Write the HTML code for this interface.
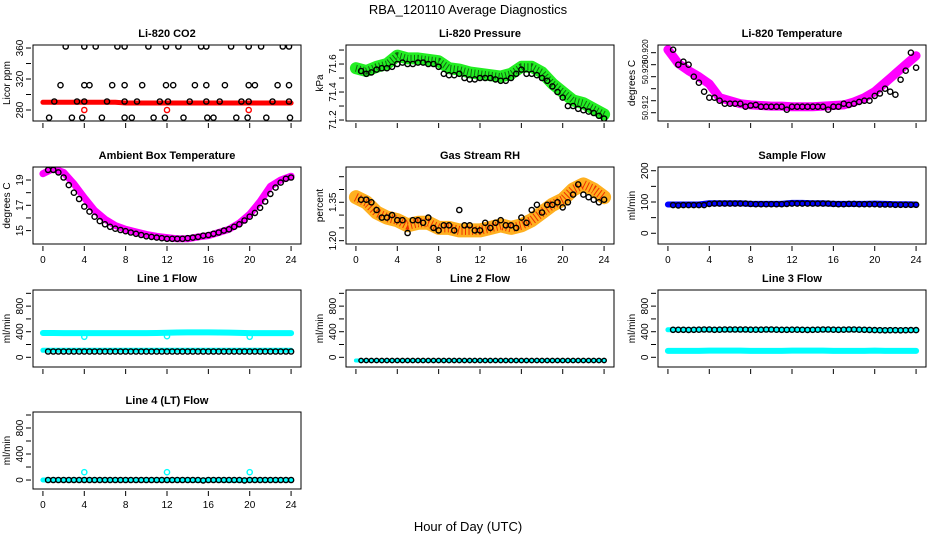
<!DOCTYPE html>
<html><head><meta charset="utf-8">
<style>
html,body{margin:0;padding:0;background:#fff;}
svg{display:block;font-family:"Liberation Sans",sans-serif;}
</style></head>
<body>
<svg id="chart" width="936" height="540" viewBox="0 0 936 540" xmlns="http://www.w3.org/2000/svg">
<text x="468" y="14" text-anchor="middle" font-size="13">RBA_120110  Average Diagnostics</text>
<text x="468" y="531" text-anchor="middle" font-size="13">Hour of Day (UTC)</text>
</svg>
<script>
const hoursHourly = [0,1,2,3,4,5,6,7,8,9,10,11,12,13,14,15,16,17,18,19,20,21,22,23,24];
const hoursHalf = [0.5,1,1.5,2,2.5,3,3.5,4,4.5,5,5.5,6,6.5,7,7.5,8,8.5,9,9.5,10,10.5,11,11.5,12,12.5,13,13.5,14,14.5,15,15.5,16,16.5,17,17.5,18,18.5,19,19.5,20,20.5,21,21.5,22,22.5,23,23.5,24];
const xTicks = [0,4,8,12,16,20,24];

// CO2
const co2Hours = [2.2,4.0,5.1,7.2,7.9,10.2,11.9,13.1,15.3,15.8,18.2,19.9,21.1,23.2,23.8, 1.7,4.0,4.5,6.7,7.9,9.6,11.9,12.6,14.7,15.8,17.6,19.9,20.5,22.7,23.8, 1.1,3.3,4.0,6.2,7.9,9.1,11.3,12.1,14.2,15.8,17.1,19.2,19.9,22.2,23.8, 0.6,2.8,3.8,5.7,7.9,8.6,10.7,11.8,13.6,15.9,16.5,18.7,19.8,21.6,23.9];
const co2Values = [362,362,362,362,362,362,362,362,362,362,362,362,362,362,362, 312,312,312,312,312,312,312,312,312,312,312,312,312,312,312, 291,291,291,291,291,291,291,291,291,291,291,291,291,291,291, 270,270,270,270,270,270,270,270,270,270,270,270,270,270,270];
const co2RedHours = [4.0,12.0,19.9];
const co2RedValues = [280,280,280];
const co2Band = [290,290,290,290,290,290,290,290,289,289,289,289,289,289,289,289,289,289,289,289,289,289,289,289,289];

// Pressure
const presBand = [71.57,71.55,71.58,71.60,71.66,71.64,71.64,71.63,71.62,71.57,71.56,71.54,71.53,71.52,71.51,71.53,71.58,71.58,71.54,71.46,71.40,71.34,71.32,71.28,71.24];
const presBlack = [71.55,71.53,71.54,71.56,71.57,71.57,71.58,71.60,71.61,71.60,71.60,71.61,71.61,71.60,71.60,71.58,71.53,71.52,71.52,71.53,71.50,71.49,71.49,71.50,71.50,71.50,71.49,71.48,71.48,71.50,71.53,71.56,71.53,71.53,71.52,71.50,71.48,71.44,71.40,71.36,71.30,71.30,71.28,71.27,71.26,71.25,71.23,71.21];

// Li-820 temperature
const tempBand = [50.9205,50.9182,50.917,50.916,50.9148,50.9125,50.912,50.9115,50.9113,50.9112,50.9111,50.9111,50.911,50.911,50.911,50.9111,50.9112,50.9113,50.9118,50.9125,50.9135,50.915,50.9165,50.918,50.9195];
const tempBlack = [50.9205,50.918,50.9185,50.918,50.916,50.915,50.9135,50.9125,50.9125,50.912,50.9115,50.9115,50.9115,50.9115,50.911,50.9112,50.9113,50.911,50.911,50.911,50.911,50.911,50.9105,50.911,50.911,50.911,50.911,50.911,50.911,50.911,50.9105,50.911,50.911,50.9115,50.9113,50.9115,50.9118,50.912,50.912,50.9128,50.9132,50.914,50.9135,50.913,50.9155,50.917,50.920,50.9175];

// Ambient box temperature
const ambBand = [19.5,19.9,19.6,18.7,17.6,16.6,15.9,15.4,15.1,14.9,14.7,14.55,14.45,14.35,14.35,14.5,14.6,14.85,15.1,15.6,16.3,17.3,18.5,19.0,19.3];
const ambBlack = [19.8,19.8,19.6,19.2,18.6,18.0,17.5,16.9,16.5,16.1,15.75,15.5,15.3,15.15,15.05,14.95,14.85,14.75,14.65,14.55,14.5,14.45,14.4,14.35,14.35,14.35,14.35,14.4,14.45,14.5,14.6,14.65,14.75,14.85,15.0,15.1,15.3,15.5,15.8,16.1,16.4,16.8,17.3,17.9,18.4,18.8,19.1,19.2];

// Gas stream RH
const rhBand = [1.37,1.35,1.31,1.29,1.28,1.26,1.27,1.27,1.25,1.25,1.24,1.24,1.24,1.25,1.26,1.25,1.26,1.28,1.31,1.34,1.36,1.40,1.42,1.40,1.37];
const rhBlack = [1.36,1.36,1.35,1.32,1.29,1.29,1.30,1.28,1.28,1.23,1.28,1.28,1.27,1.29,1.25,1.24,1.26,1.26,1.24,1.32,1.26,1.26,1.24,1.24,1.27,1.25,1.27,1.28,1.26,1.26,1.25,1.29,1.27,1.32,1.34,1.31,1.34,1.34,1.35,1.33,1.35,1.38,1.42,1.38,1.37,1.36,1.35,1.36];

// Flows
const sampleBand = [92,92,92,92,96,96,96,96,94,94,94,94,97,97,96,96,94,94,94,94,95,94,93,93,92];
const sampleBlack = [90,89,90,90,90,90,90,94,95,95,95,95,95,95,95,94,93,93,93,93,93,93,94,95,95,95,95,95,95,95,95,94,93,93,94,94,93,93,93,93,92,92,92,91,91,91,91,91];
const line1BandHi = [380,380,378,378,378,378,378,378,378,378,378,380,385,388,390,390,390,388,386,382,378,378,378,378,378];
const line1BandLo = [110,110,110,110,110,110,110,110,110,110,110,110,110,110,110,110,110,110,110,110,110,110,110,110,110];
const line1Black = [90,90,90,90,90,90,90,90,90,90,90,90,90,90,90,90,90,90,90,90,90,90,90,90,90,90,90,90,90,90,90,90,90,90,90,90,90,90,90,90,90,90,90,90,90,90,90,90];
const line1OutHours = [4.0,12.0,20.0];
const line1OutValues = [320,330,320];
const line2Band = [-50,-50,-50,-50,-50,-50,-50,-50,-50,-50,-50,-50,-50,-50,-50,-50,-50,-50,-50,-50,-50,-50,-50,-50,-50];
const line2Black = [-50,-50,-50,-50,-50,-50,-50,-50,-50,-50,-50,-50,-50,-50,-50,-50,-50,-50,-50,-50,-50,-50,-50,-50,-50,-50,-50,-50,-50,-50,-50,-50,-50,-50,-50,-50,-50,-50,-50,-50,-50,-50,-50,-50,-50,-50,-50,-50];
const line3BandHi = [430,430,430,430,430,430,430,430,430,430,430,430,430,430,430,430,430,430,430,430,425,425,425,425,425];
const line3BandLo = [100,100,100,100,105,105,105,105,100,100,100,100,105,105,105,105,100,100,100,100,105,100,100,100,100];
const line3Black = [430,430,430,428,430,432,434,435,430,432,434,435,435,435,435,432,432,432,434,435,432,430,430,432,432,430,428,430,432,434,434,432,430,432,434,434,432,430,428,425,424,422,424,424,422,424,425,425];
const line4Band = [0,0,0,0,0,0,0,0,0,0,0,0,0,0,0,-5,0,0,-5,-5,0,0,0,0,0];
const line4Black = [0,0,0,0,0,0,0,0,0,0,0,0,0,0,0,0,0,0,0,0,0,0,0,0,0,0,0,0,0,0,-5,0,0,0,0,0,0,0,-5,0,0,0,0,0,0,0,0,0];
const line4OutHours = [4.0,12.0,20.0];
const line4OutValues = [120,120,120];

const NS = "http://www.w3.org/2000/svg";
const svg = document.getElementById('chart');
const colLeft = [33,346,658];
const rowTop = [45,167,290,412];
const boxW = 268;
const rowH = [76,77,77,77];

function mk(tag, attrs, parent){
  const e = document.createElementNS(NS, tag);
  for (const k in attrs) e.setAttribute(k, attrs[k]);
  parent.appendChild(e);
  return e;
}

function panel(cfg){
  const L = colLeft[cfg.col], T = rowTop[cfg.row], H = rowH[cfg.row];
  const g = mk('g', {}, svg);
  
  
  const xs = h => L + (h + 0.96) / 25.92 * boxW;
  const ys = v => T + (cfg.ymax - v) / (cfg.ymax - cfg.ymin) * H;
  const t = mk('text', {x: L + boxW/2, y: T - 8, 'text-anchor':'middle', 'font-size':'11', 'font-weight':'bold'}, g);
  
  
  t.textContent = cfg.title;
  const yl = mk('text', {x:0, y:0, 'text-anchor':'middle', 'font-size':'10', transform:`translate(${L-23},${T+H/2}) rotate(-90)`}, g);
  
  
  yl.textContent = cfg.ylab;
  const cid = 'clip-' + cfg.name;
  const cp = mk('clipPath', {id: cid}, g);
  mk('rect', {x:L, y:T, width:boxW, height:H}, cp);
  const data = mk('g', {'clip-path': `url(#${cid})`}, g);
  
  
  (cfg.bands || []).forEach((b, bi) => {
    const pts = b.vals.map((v, i) => xs(hoursHourly[i]).toFixed(1) + ',' + ys(v).toFixed(1)).join(' ');
    const pl = mk('polyline', {points: pts, fill:'none', stroke:b.color, 'stroke-width':b.w, 'stroke-linejoin':'round', 'stroke-linecap':'round'}, data);
    
    
    if (b.dots) {
      const pl2 = mk('polyline', {points: pts, fill:'none', stroke:b.dots, 'stroke-width':Math.max(1,b.w-5), 'stroke-dasharray':'1 2.5', 'stroke-linejoin':'round'}, data);
      
      
    }
  });
  (cfg.points || []).forEach((p, pi) => {
    p.vals.forEach((v, i) => {
      const c = mk('circle', {cx: xs(p.hours[i]).toFixed(1), cy: ys(v).toFixed(1), r: p.r || 2.6, fill:'none', stroke:p.color, 'stroke-width':1.4}, data);
      
      
    });
  });
  const bx = mk('rect', {x:L, y:T, width:boxW, height:H, fill:'none', stroke:'#000', 'stroke-width':1}, g);
  
  
  xTicks.forEach(h => {
    const tk = mk('line', {x1: xs(h), x2: xs(h), y1: T+H+2, y2: T+H+7, stroke:'#000'}, g);
    
    
    if (cfg.xlabels) {
      const tl = mk('text', {x: xs(h), y: T+H+19, 'text-anchor':'middle', 'font-size':'10'}, g);
      
      
      tl.textContent = h;
    }
  });
  cfg.yticks.forEach(v => {
    const tk = mk('line', {x1: L-7, x2: L-2, y1: ys(v), y2: ys(v), stroke:'#000'}, g);
    
    
  });
  cfg.ylabelVals.forEach((v, i) => {
    const tl = mk('text', {x:0, y:0, 'text-anchor':'middle', 'font-size': cfg.ylabSize || '10', transform:`translate(${L-10},${ys(v)}) rotate(-90)`}, g);
    
    
    tl.textContent = cfg.ylabelText[i];
  });
}

const flowTicks = [0,200,400,600,800,1000];
panel({name:'co2', col:0, row:0, title:'Li-820 CO2', ylab:'Licor ppm', ymin:265.8, ymax:363.9,
  yticks:[280,300,320,340,360], ylabelVals:[280,320,360], ylabelText:['280','320','360'],
  bands:[{vals:co2Band, color:'#ff0000', w:5}],
  points:[{hours:co2Hours, vals:co2Values, color:'#000'},{hours:co2RedHours, vals:co2RedValues, color:'#ff0000'}]});
panel({name:'pressure', col:1, row:0, title:'Li-820 Pressure', ylab:'kPa', ymin:71.193, ymax:71.736,
  yticks:[71.2,71.3,71.4,71.5,71.6,71.7], ylabelVals:[71.2,71.4,71.6], ylabelText:['71.2','71.4','71.6'],
  bands:[{vals:presBand, color:'#22ee22', w:12, dots:'#116611'}],
  points:[{hours:hoursHalf, vals:presBlack, color:'#000'}]});
panel({name:'li820-temperature', col:2, row:0, title:'Li-820 Temperature', ylab:'degrees C', ymin:50.90862, ymax:50.92128, ylabSize:'8',
  yticks:[50.910,50.912,50.914,50.916,50.918,50.920], ylabelVals:[50.9202,50.9168,50.91083], ylabelText:['50.920','50.920','50.912'],
  bands:[{vals:tempBand, color:'#ff00ff', w:9}],
  points:[{hours:hoursHalf, vals:tempBlack, color:'#000'}]});
panel({name:'ambient-temperature', col:0, row:1, title:'Ambient Box Temperature', ylab:'degrees C', ymin:13.94, ymax:20.03, xlabels:true,
  yticks:[15,16,17,18,19], ylabelVals:[15,17,19], ylabelText:['15','17','19'],
  bands:[{vals:ambBand, color:'#ff00ff', w:7}],
  points:[{hours:hoursHalf, vals:ambBlack, color:'#000'}]});
panel({name:'gas-rh', col:1, row:1, title:'Gas Stream RH', ylab:'percent', ymin:1.187, ymax:1.4879, xlabels:true,
  yticks:[1.20,1.25,1.30,1.35,1.40,1.45], ylabelVals:[1.20,1.35], ylabelText:['1.20','1.35'],
  bands:[{vals:rhBand, color:'#ffb020', w:14, dots:'#ee3300'}],
  points:[{hours:hoursHalf, vals:rhBlack, color:'#000'}]});
panel({name:'sample-flow', col:2, row:1, title:'Sample Flow', ylab:'ml/min', ymin:-34.3, ymax:211.9, xlabels:true,
  yticks:[0,50,100,150,200], ylabelVals:[0,100,200], ylabelText:['0','100','200'],
  bands:[{vals:sampleBand, color:'#0000ff', w:6}],
  points:[{hours:hoursHalf, vals:sampleBlack, color:'#000'}]});
panel({name:'line1-flow', col:0, row:2, title:'Line 1 Flow', ylab:'ml/min', ymin:-151.6, ymax:1052,
  yticks:flowTicks, ylabelVals:[0,400,800], ylabelText:['0','400','800'],
  bands:[{vals:line1BandHi, color:'#00ffff', w:6},{vals:line1BandLo, color:'#00ffff', w:5}],
  points:[{hours:hoursHalf, vals:line1Black, color:'#000'},{hours:line1OutHours, vals:line1OutValues, color:'#00ffff'}]});
panel({name:'line2-flow', col:1, row:2, title:'Line 2 Flow', ylab:'ml/min', ymin:-151.6, ymax:1052,
  yticks:flowTicks, ylabelVals:[0,400,800], ylabelText:['0','400','800'],
  bands:[{vals:line2Band, color:'#00ffff', w:4}],
  points:[{hours:hoursHalf, vals:line2Black, color:'#000', r:2.2}]});
panel({name:'line3-flow', col:2, row:2, title:'Line 3 Flow', ylab:'ml/min', ymin:-151.6, ymax:1052,
  yticks:flowTicks, ylabelVals:[0,400,800], ylabelText:['0','400','800'],
  bands:[{vals:line3BandHi, color:'#00ffff', w:5},{vals:line3BandLo, color:'#00ffff', w:6}],
  points:[{hours:hoursHalf, vals:line3Black, color:'#000'}]});
panel({name:'line4-flow', col:0, row:3, title:'Line 4 (LT) Flow', ylab:'ml/min', ymin:-138, ymax:1046, xlabels:true,
  yticks:flowTicks, ylabelVals:[0,400,800], ylabelText:['0','400','800'],
  bands:[{vals:line4Band, color:'#00ffff', w:5}],
  points:[{hours:hoursHalf, vals:line4Black, color:'#000'},{hours:line4OutHours, vals:line4OutValues, color:'#00ffff'}]});
</script>
</body></html>
